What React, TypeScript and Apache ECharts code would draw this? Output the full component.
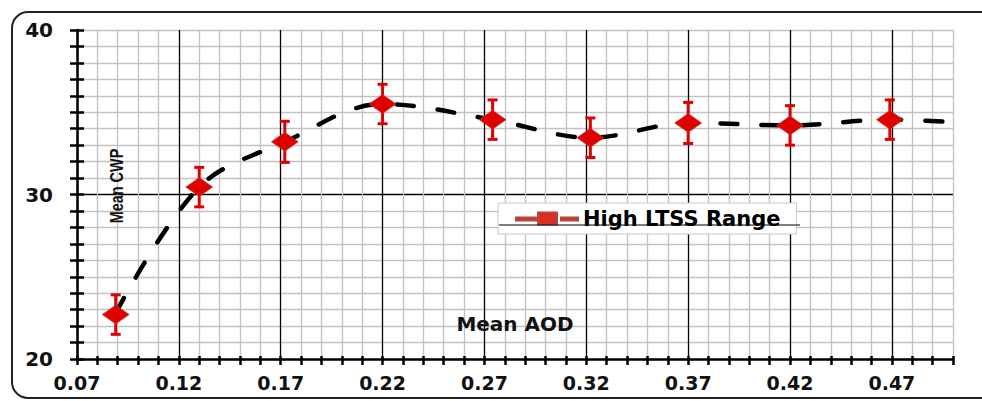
import React, { useEffect, useRef } from 'react';
import * as echarts from 'echarts';

// ---- data ----
const aodValues = [0.089, 0.13, 0.172, 0.22, 0.274, 0.322, 0.37, 0.42, 0.469];
const cwpValues = [22.7, 30.45, 33.2, 35.5, 34.55, 33.45, 34.35, 34.2, 34.55];
const cwpErrors = [1.2, 1.2, 1.25, 1.2, 1.2, 1.2, 1.25, 1.2, 1.2];

// dashed trend curve
const trendAod = [0.089, 0.13, 0.172, 0.22, 0.274, 0.322, 0.37, 0.42, 0.469, 0.5];
const trendCwp = [22.8, 30.45, 33.2, 35.5, 34.55, 33.45, 34.35, 34.2, 34.55, 34.4];

const xMajorTicks = [0.07, 0.12, 0.17, 0.22, 0.27, 0.32, 0.37, 0.42, 0.47];
const yMajorTicks = [20, 30, 40];

const seriesName = 'High LTSS Range';
const xAxisTitle = 'Mean AOD';
const yAxisTitle = 'Mean CWP';

export default function App() {
  const ref = useRef<HTMLDivElement>(null);

  useEffect(() => {
    const chart = echarts.init(ref.current!, null, { renderer: 'svg' });
    const gray = '#c2c2c2';
    const labelFont = 'DejaVu Sans';
    const xSplitColors = ['#000', gray, gray, gray, gray];
    const ySplitColors = Array.from({ length: 21 }, (_, i) => (i === 10 ? '#000' : gray));

    const xBase = {
      type: 'value' as const,
      min: 0.07,
      max: 0.5,
      interval: 0.01,
      position: 'bottom' as const,
    };
    const yBase = {
      type: 'value' as const,
      min: 20,
      max: 40,
      interval: 1,
      position: 'left' as const,
    };

    const option: any = {
      animation: false,
      backgroundColor: '#fff',
      grid: { left: 77, right: 29, top: 30, bottom: 42, containLabel: false, outerBoundsMode: 'none' },
      xAxis: [
        {
          ...xBase,
          name: xAxisTitle,
          nameLocation: 'middle',
          nameGap: -45,
          nameTextStyle: { fontFamily: labelFont, fontWeight: 'bold', fontSize: 20, color: '#111' },
          axisLine: { lineStyle: { color: '#000', width: 2.5 } },
          axisTick: { show: true, length: 6, lineStyle: { color: '#000', width: 2.5 } },
          axisLabel: {
            margin: 14,
            fontFamily: labelFont,
            fontWeight: 'bold',
            fontSize: 19,
            color: '#111',
            formatter: (v: number) =>
              xMajorTicks.some((t) => Math.abs(t - v) < 1e-6) ? v.toFixed(2) : '',
          },
          splitLine: { show: true, lineStyle: { color: xSplitColors, width: 1.3 } },
        },
        {
          ...xBase,
          axisLine: { show: false },
          axisTick: { show: true, inside: true, length: 3, lineStyle: { color: '#000', width: 2.5 } },
          axisLabel: { show: false },
          splitLine: { show: false },
        },
      ],
      yAxis: [
        {
          ...yBase,
          axisLine: { lineStyle: { color: '#000', width: 2.5 } },
          axisTick: { show: true, length: 7, lineStyle: { color: '#000', width: 2.5 } },
          axisLabel: {
            margin: 24,
            fontFamily: labelFont,
            fontWeight: 'bold',
            fontSize: 20,
            color: '#111',
            formatter: (v: number) => (yMajorTicks.includes(Math.round(v)) ? String(Math.round(v)) : ''),
          },
          splitLine: { show: true, lineStyle: { color: ySplitColors, width: 1.3 } },
        },
        {
          ...yBase,
          axisLine: { show: false },
          axisTick: { show: true, inside: true, length: 7, lineStyle: { color: '#000', width: 2.5 } },
          axisLabel: { show: false },
          splitLine: { show: false },
        },
      ],
      legend: {
        left: 498,
        top: 203,
        data: [
          {
            name: seriesName,
            icon: 'path://M0,5H20V8H0Z M22,0H41V12H22Z M45,5H62V8H45Z',
            itemStyle: { color: '#e02a24', opacity: 1 },
          },
        ],
        itemWidth: 62,
        itemHeight: 12,
        padding: [5, 16, 5, 17],
        backgroundColor: '#fff',
        borderColor: '#c8c8c8',
        borderWidth: 1,
        borderRadius: 0,
        textStyle: { fontFamily: labelFont, fontWeight: 'bold', fontSize: 21, color: '#000' },
      },
      graphic: [
        {
          type: 'rect',
          shape: { x: 12, y: 12, width: 990, height: 386, r: 16 },
          style: { fill: 'none', stroke: '#222', lineWidth: 2 },
          z: 100,
        },
        {
          type: 'line',
          shape: { x1: 499, y1: 225, x2: 800, y2: 225 },
          style: { stroke: '#000', lineWidth: 1.2 },
          z: 100,
        },
        {
          type: 'text',
          x: 117,
          y: 186,
          rotation: Math.PI / 2,
          scaleX: 0.76,
          style: {
            text: yAxisTitle,
            fontFamily: 'Liberation Sans',
            fontWeight: 'bold',
            fontSize: 19,
            fill: '#111',
            align: 'center',
            verticalAlign: 'middle',
          },
          z: 50,
        },
      ],
      series: [
        {
          type: 'line',
          name: 'trend',
          data: trendAod.map((x, i) => [x, trendCwp[i]]),
          smooth: 0.35,
          showSymbol: false,
          symbol: 'none',
          lineStyle: { color: '#000', width: 4.5, type: [17, 24], cap: 'round' },
          z: 2,
          silent: true,
        },
        {
          type: 'custom',
          name: 'errors',
          z: 3,
          renderItem: (params: any, api: any) => {
            const x = api.value(0);
            const lo = api.value(1);
            const hi = api.value(2);
            const top = api.coord([x, hi]);
            const bot = api.coord([x, lo]);
            const cw = 5;
            const style = { stroke: '#e00000', lineWidth: 3 };
            return {
              type: 'group',
              children: [
                { type: 'line', shape: { x1: top[0], y1: top[1], x2: bot[0], y2: bot[1] }, style },
                { type: 'line', shape: { x1: top[0] - cw, y1: top[1], x2: top[0] + cw, y2: top[1] }, style },
                { type: 'line', shape: { x1: bot[0] - cw, y1: bot[1], x2: bot[0] + cw, y2: bot[1] }, style },
              ],
            };
          },
          data: aodValues.map((x, i) => [x, cwpValues[i] - cwpErrors[i], cwpValues[i] + cwpErrors[i]]),
          encode: { x: 0, y: [1, 2] },
        },
        {
          type: 'scatter',
          name: seriesName,
          data: aodValues.map((x, i) => [x, cwpValues[i]]),
          symbol: 'diamond',
          symbolSize: [27, 19],
          itemStyle: { color: '#e00000', opacity: 1, borderColor: '#b0483c', borderWidth: 0.6 },
          z: 4,
        },
      ],
    };

    chart.setOption(option);
    return () => chart.dispose();
  }, []);

  return (
    <div
      ref={ref}
      style={{ position: 'fixed', left: 0, top: 0, width: 982, height: 401, background: '#fff' }}
    />
  );
}
